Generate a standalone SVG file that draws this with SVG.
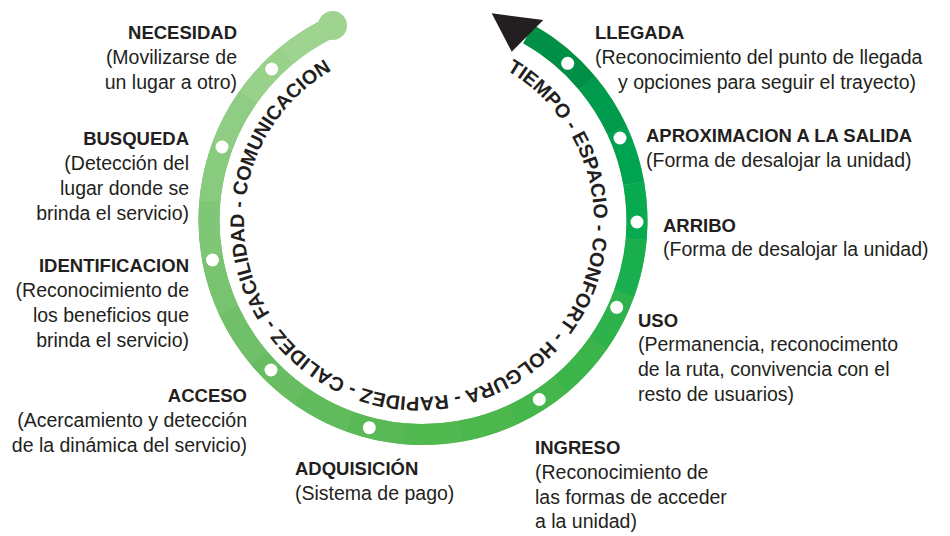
<svg xmlns="http://www.w3.org/2000/svg" width="950" height="536" viewBox="0 0 950 536">
<style>
.t{font-family:"Liberation Sans",Arial,sans-serif;font-size:19.5px;fill:#231f20}
.b{font-weight:bold;font-size:18.5px}
.r{text-anchor:end}
.seg{fill:none;stroke-width:21}
.dot{fill:#ffffff}
.ring{font-family:"Liberation Sans",Arial,sans-serif;font-weight:bold;font-size:19.7px;fill:#231f20}
</style>
<defs>
<path id="tp" d="M 506.5 70.45 A 175 175 0 1 1 331.5 70.45 A 175 175 0 0 1 506.5 70.45"/>
</defs>
<rect width="950" height="536" fill="#ffffff"/>
<g id="connectors">
<path class="seg" stroke="#6fbf68" d="M 332.6 26.5 A 214 214 0 1 0 528.4 34.2"/>
<path class="seg" stroke="#9fd490" d="M 332.6 26.5 A 214 214 0 0 0 285.4 56.6"/>
<path class="seg" stroke="#98d18a" d="M 285.4 56.6 A 214 214 0 0 0 247.7 97.8"/>
<path class="seg" stroke="#90cd84" d="M 247.7 97.8 A 214 214 0 0 0 221.9 147.3"/>
<path class="seg" stroke="#88ca7e" d="M 221.9 147.3 A 214 214 0 0 0 209.8 201.8"/>
<path class="seg" stroke="#80c677" d="M 209.8 201.8 A 214 214 0 0 0 212.3 257.7"/>
<path class="seg" stroke="#78c370" d="M 212.3 257.7 A 214 214 0 0 0 229.0 310.9"/>
<path class="seg" stroke="#70c069" d="M 229.0 310.9 A 214 214 0 0 0 259.1 358.1"/>
<path class="seg" stroke="#68bd62" d="M 259.1 358.1 A 214 214 0 0 0 300.3 395.8"/>
<path class="seg" stroke="#60bb5c" d="M 300.3 395.8 A 214 214 0 0 0 349.8 421.6"/>
<path class="seg" stroke="#58b956" d="M 349.8 421.6 A 214 214 0 0 0 404.3 433.7"/>
<path class="seg" stroke="#52b850" d="M 404.3 433.7 A 214 214 0 0 0 460.2 431.2"/>
<path class="seg" stroke="#4bb74d" d="M 460.2 431.2 A 214 214 0 0 0 513.4 414.5"/>
<path class="seg" stroke="#44b64b" d="M 513.4 414.5 A 214 214 0 0 0 560.6 384.4"/>
<path class="seg" stroke="#3bb54a" d="M 560.6 384.4 A 214 214 0 0 0 598.3 343.2"/>
<path class="seg" stroke="#2db24c" d="M 598.3 343.2 A 214 214 0 0 0 624.1 293.7"/>
<path class="seg" stroke="#1aaf4e" d="M 624.1 293.7 A 214 214 0 0 0 636.2 239.2"/>
<path class="seg" stroke="#08aa50" d="M 636.2 239.2 A 214 214 0 0 0 633.7 183.3"/>
<path class="seg" stroke="#00a34f" d="M 633.7 183.3 A 214 214 0 0 0 617.0 130.1"/>
<path class="seg" stroke="#009a4c" d="M 617.0 130.1 A 214 214 0 0 0 586.9 82.9"/>
<path class="seg" stroke="#008f47" d="M 586.9 82.9 A 214 214 0 0 0 528.4 34.2"/>
<circle cx="332.5" cy="25.5" r="14.5" fill="#9fd490"/>
<polygon points="491.7,13.3 543.3,20 511.7,51.7" fill="#231f20"/>
</g>
<g id="stops">
<circle class="dot" cx="271.7" cy="69" r="6.5"/>
<circle class="dot" cx="222" cy="147" r="6.5"/>
<circle class="dot" cx="212.5" cy="260" r="6.5"/>
<circle class="dot" cx="271" cy="370" r="6.5"/>
<circle class="dot" cx="369.3" cy="427.7" r="6.5"/>
<circle class="dot" cx="539.3" cy="399.5" r="6.5"/>
<circle class="dot" cx="616.7" cy="307.3" r="6.5"/>
<circle class="dot" cx="637" cy="222" r="6.5"/>
<circle class="dot" cx="620" cy="138" r="6.5"/>
<circle class="dot" cx="567.7" cy="63.3" r="6.5"/>
</g>
<g id="ring-text">
<text class="ring"><textPath href="#tp">TIEMPO - ESPACIO - CONFORT - HOLGURA - RAPIDEZ - CALIDEZ - FACILIDAD - COMUNICACION</textPath></text>
</g>
<g id="necesidad">
<text class="t b r" x="237" y="39">NECESIDAD</text>
<text class="t r" x="237" y="64">(Movilizarse de</text>
<text class="t r" x="237" y="89">un lugar a otro)</text>
</g>
<g id="busqueda">
<text class="t b r" x="189" y="145">BUSQUEDA</text>
<text class="t r" x="189" y="170">(Detección del</text>
<text class="t r" x="189" y="195">lugar donde se</text>
<text class="t r" x="189" y="220">brinda el servicio)</text>
</g>
<g id="identificacion">
<text class="t b r" x="189" y="272">IDENTIFICACION</text>
<text class="t r" x="189" y="297">(Reconocimiento de</text>
<text class="t r" x="189" y="322">los beneficios que</text>
<text class="t r" x="189" y="347">brinda el servicio)</text>
</g>
<g id="acceso">
<text class="t b r" x="247" y="402">ACCESO</text>
<text class="t r" x="247" y="427">(Acercamiento y detección</text>
<text class="t r" x="247" y="452">de la dinámica del servicio)</text>
</g>
<g id="adquisicion">
<text class="t b" x="295" y="475">ADQUISICIÓN</text>
<text class="t" x="295" y="500">(Sistema de pago)</text>
</g>
<g id="ingreso">
<text class="t b" x="535" y="454">INGRESO</text>
<text class="t" x="535" y="479">(Reconocimiento de</text>
<text class="t" x="535" y="504">las formas de acceder</text>
<text class="t" x="535" y="528">a la unidad)</text>
</g>
<g id="uso">
<text class="t b" x="638" y="327">USO</text>
<text class="t" x="638" y="351">(Permanencia, reconocimento</text>
<text class="t" x="638" y="376">de la ruta, convivencia con el</text>
<text class="t" x="638" y="401">resto de usuarios)</text>
</g>
<g id="arribo">
<text class="t b" x="663" y="232">ARRIBO</text>
<text class="t" x="663" y="256">(Forma de desalojar la unidad)</text>
</g>
<g id="aproximacion">
<text class="t b" x="646" y="142">APROXIMACION A LA SALIDA</text>
<text class="t" x="646" y="167">(Forma de desalojar la unidad)</text>
</g>
<g id="llegada">
<text class="t b" x="595" y="39">LLEGADA</text>
<text class="t" x="595" y="64">(Reconocimiento del punto de llegada</text>
<text class="t" x="618" y="89">y opciones para seguir el trayecto)</text>
</g>
</svg>
